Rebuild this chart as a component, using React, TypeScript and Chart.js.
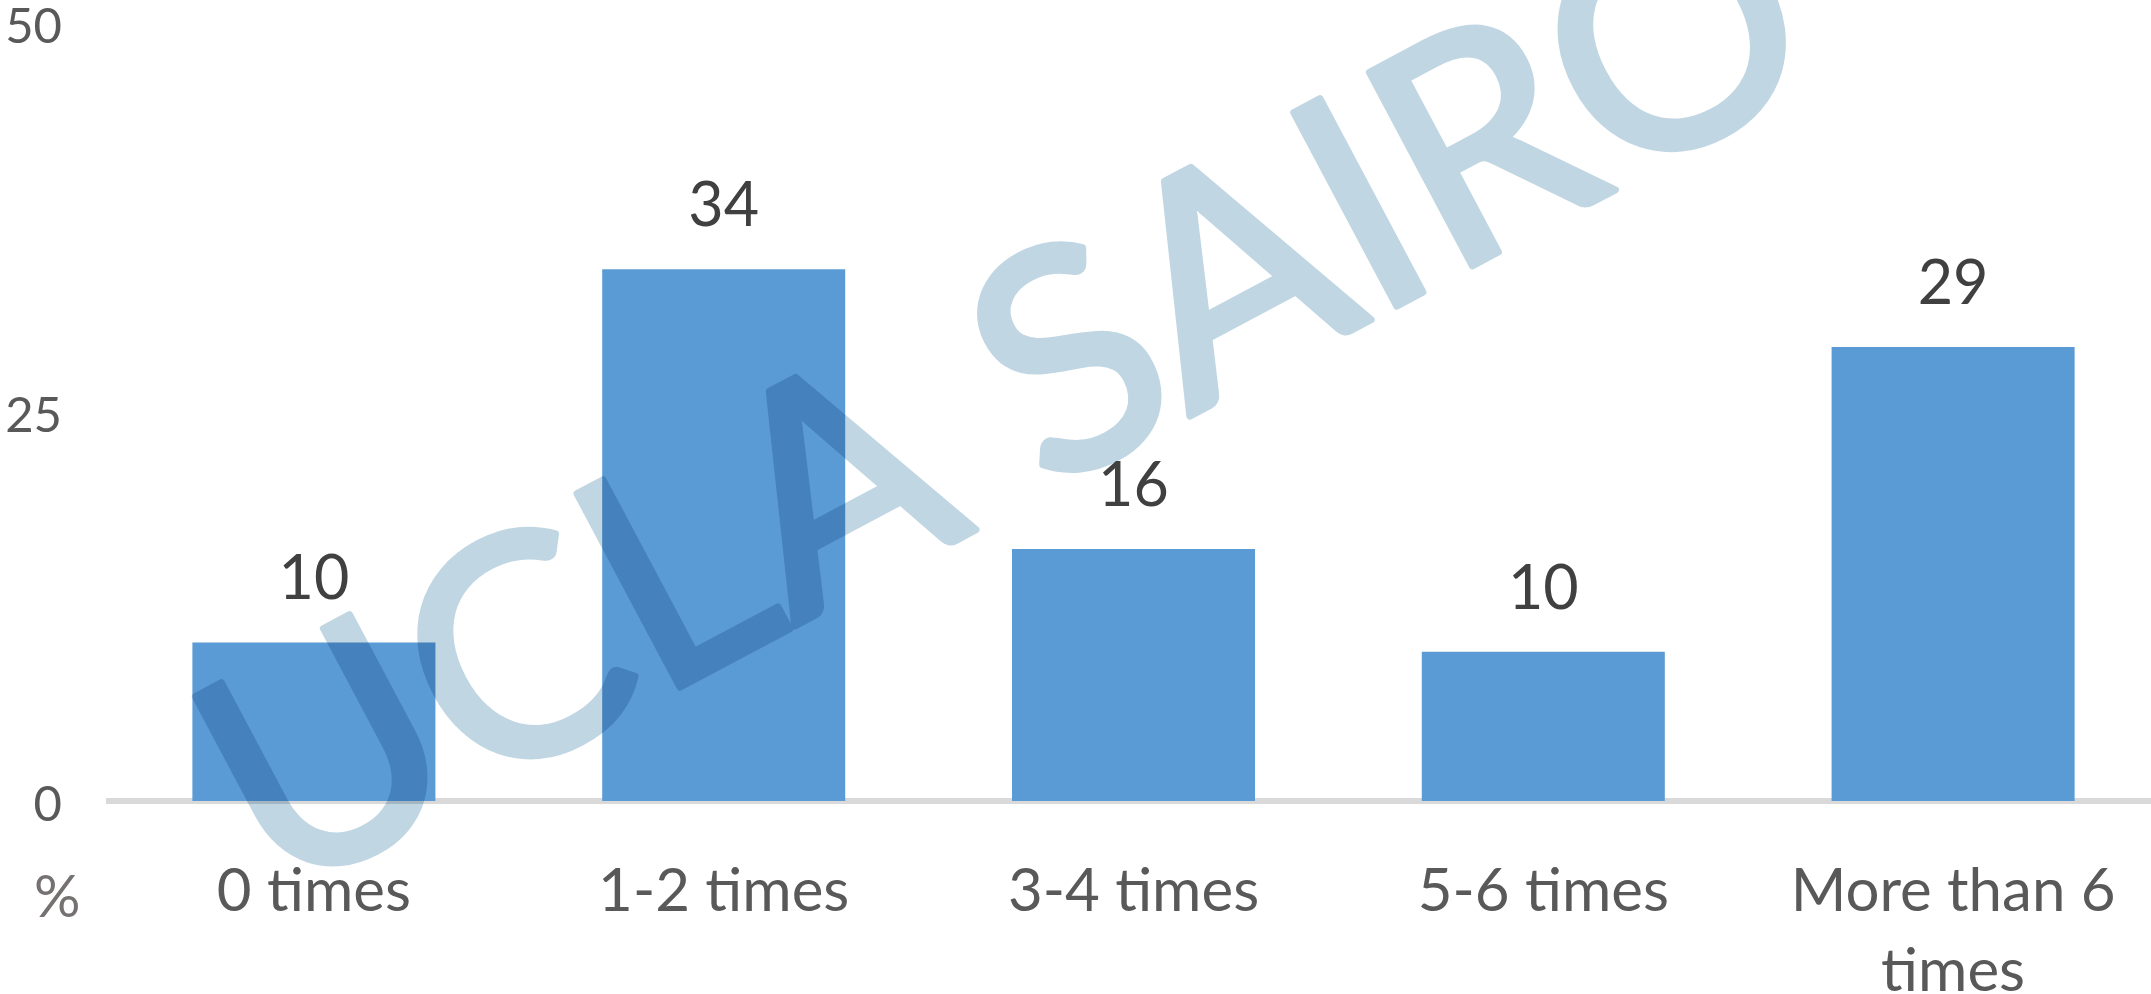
import { useEffect, useRef } from "react";
import { Chart, registerables } from "chart.js";

Chart.register(...registerables);

// ---- data ----
const categories: (string | string[])[] = [
  "0 times",
  "1-2 times",
  "3-4 times",
  "5-6 times",
  ["More than 6", "times"],
];
const percentValues = [10.2, 34.2, 16.2, 9.6, 29.2];
const yTickValues = [0, 25, 50];
const yUnitLabel = "%";
const watermarkText = "UCLA SAIRO";

const FONT = "Lato";
const PAGE_W = 2151;
const PAGE_H = 994;
const CANVAS_W = 2158; // chart is cropped slightly on the right, as in the original

const dataLabelPlugin = {
  id: "dataLabels",
  afterDatasetsDraw(chart: any) {
    const ctx = chart.ctx;
    const meta = chart.getDatasetMeta(0);
    ctx.save();
    ctx.font = `61px ${FONT}`;
    ctx.fillStyle = "#404040";
    ctx.textAlign = "center";
    ctx.textBaseline = "alphabetic";
    meta.data.forEach((bar: any, i: number) => {
      const v = chart.data.datasets[0].data[i] as number;
      ctx.fillText(String(Math.round(v)), bar.x, bar.y - 43);
    });
    ctx.restore();
  },
};

const decorPlugin = {
  id: "decor",
  afterDraw(chart: any) {
    const ctx = chart.ctx as CanvasRenderingContext2D;
    // unit label
    ctx.save();
    ctx.font = `58px ${FONT}`;
    ctx.fillStyle = "#757171";
    ctx.textAlign = "left";
    ctx.textBaseline = "alphabetic";
    ctx.fillText(yUnitLabel, 34, 917);
    ctx.restore();

    // watermark
    const w = chart.width;
    const h = chart.height;
    const off = document.createElement("canvas");
    off.width = w;
    off.height = h;
    const o = off.getContext("2d")!;
    o.fillStyle = "#ffffff";
    o.fillRect(0, 0, w, h);
    o.translate(276, 902);
    o.rotate((-28 * Math.PI) / 180);
    o.font = `306px ${FONT}`;
    o.textAlign = "left";
    o.textBaseline = "alphabetic";
    o.fillStyle = "#c0d6e3";
    o.strokeStyle = "#c0d6e3";
    o.lineWidth = 7;
    o.lineJoin = "round";
    o.fillText(watermarkText, 0, 0);
    o.strokeText(watermarkText, 0, 0);
    ctx.save();
    ctx.globalCompositeOperation = "multiply";
    ctx.drawImage(off, 0, 0);
    ctx.restore();
  },
};

export default function App() {
  const canvasRef = useRef<HTMLCanvasElement | null>(null);

  useEffect(() => {
    let chart: Chart | null = null;
    let cancelled = false;
    const make = () => {
      if (cancelled || !canvasRef.current) return;
      chart = new Chart(canvasRef.current, {
        type: "bar",
        data: {
          labels: categories as any,
          datasets: [
            {
              data: percentValues,
              backgroundColor: "#5b9bd5",
              borderWidth: 0,
              categoryPercentage: 1,
              barPercentage: 0.593,
            },
          ],
        },
        options: {
          animation: false,
          responsive: false,
          devicePixelRatio: 1,
          layout: { padding: 0 },
          plugins: {
            legend: { display: false },
            tooltip: { enabled: false },
            title: { display: false },
          },
          scales: {
            x: {
              grid: { display: false, drawTicks: false },
              border: { display: true, color: "#d9d9d9", width: 6 },
              ticks: {
                color: "#595959",
                font: { family: FONT, size: 60, lineHeight: 1.333 },
                padding: 51,
                maxRotation: 0,
                minRotation: 0,
                autoSkip: false,
              },
              afterFit(scale: any) {
                scale.height = 193;
                scale.paddingLeft = 0;
                scale.paddingRight = 0;
              },
            },
            y: {
              min: 0,
              max: 50,
              afterBuildTicks(scale: any) {
                scale.ticks = yTickValues.map((v) => ({ value: v }));
              },
              grid: { display: false, drawTicks: false },
              border: { display: false },
              ticks: {
                color: "#595959",
                font: { family: FONT, size: 49 },
                padding: 47,
                labelOffset: 4,
              },
              afterFit(scale: any) {
                scale.width = 109;
                scale.paddingTop = 23.5;
                scale.paddingBottom = 0;
              },
            },
          },
        },
        plugins: [dataLabelPlugin, decorPlugin],
      });
    };
    const fontsReady = (document as any).fonts
      ? Promise.all([
          (document as any).fonts.load(`60px ${FONT}`),
          (document as any).fonts.load(`306px ${FONT}`),
        ]).catch(() => null)
      : Promise.resolve(null);
    fontsReady.then(make);
    return () => {
      cancelled = true;
      if (chart) chart.destroy();
    };
  }, []);

  return (
    <div
      style={{
        position: "fixed",
        left: 0,
        top: 0,
        width: PAGE_W,
        height: PAGE_H,
        overflow: "hidden",
        background: "#ffffff",
      }}
    >
      <canvas
        ref={canvasRef}
        width={CANVAS_W}
        height={PAGE_H}
        style={{ width: CANVAS_W, height: PAGE_H, display: "block" }}
      />
    </div>
  );
}
